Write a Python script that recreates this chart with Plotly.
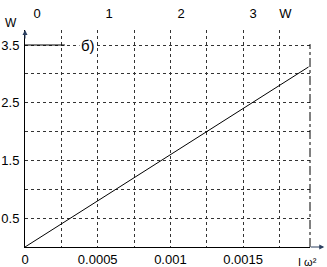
import plotly.graph_objects as go

# data
i_omega2 = [0, 0.0005, 0.001, 0.0015, 0.00195]
w_vals = [0, 0.80, 1.60, 2.40, 3.12]

x_tick_vals = [0, 0.00025, 0.0005, 0.00075, 0.001, 0.00125, 0.0015, 0.00175]
x_tick_text = ["0", "", "0.0005", "", "0.001", "", "0.0015", ""]
y_tick_vals = [0, 0.5, 1, 1.5, 2, 2.5, 3, 3.5]
y_tick_text = ["", "0.5", "", "1.5", "", "2.5", "", "3.5"]
top_tick_vals = [0, 1, 2, 3, 3.45]
top_tick_text = ["0", "1", "2", "3", "W"]

fig = go.Figure()
fig.add_trace(go.Scatter(x=i_omega2, y=w_vals, mode="lines",
                         line=dict(color="black", width=1), showlegend=False))
fig.add_trace(go.Scatter(x=[0], y=[0], xaxis="x2", mode="markers",
                         marker=dict(opacity=0), showlegend=False, hoverinfo="skip"))

fig.update_layout(
    width=327, height=267,
    margin=dict(l=25, r=17, t=30, b=20),
    plot_bgcolor="white", paper_bgcolor="white",
    font=dict(family="Arial, Liberation Sans", color="black", size=13),
    xaxis=dict(range=[0, 0.00196], tickvals=x_tick_vals, ticktext=x_tick_text,
               showgrid=True, gridcolor="#333", griddash="dot", gridwidth=1,
               showline=True, linecolor="black", linewidth=1, zeroline=False,
               ticks="", tickfont=dict(size=13), automargin=False),
    xaxis2=dict(overlaying="x", side="top", range=[-0.167, 3.79],
                tickvals=top_tick_vals, ticktext=top_tick_text,
                showgrid=False, showline=False, zeroline=False,
                ticks="outside", ticklen=6, tickcolor="rgba(0,0,0,0)",
                tickfont=dict(size=13), automargin=False),
    yaxis=dict(range=[0, 3.76], tickvals=y_tick_vals, ticktext=y_tick_text,
               showgrid=True, gridcolor="#333", griddash="dot", gridwidth=1,
               showline=True, linecolor="black", linewidth=1, zeroline=False,
               ticks="", ticklabelstandoff=2, tickfont=dict(size=13), automargin=False),
)

# right border
fig.add_shape(type="line", xref="paper", yref="paper", x0=1, x1=1, y0=0, y1=0.935,
              line=dict(color="black", width=1, dash="dashdot"))
# top solid segment at 3.5
fig.add_shape(type="line", xref="paper", yref="y", x0=0, x1=0.14, y0=3.5, y1=3.5,
              line=dict(color="black", width=1))
# x axis arrow
fig.add_annotation(xref="paper", yref="paper", x=1.05, y=0, ax=-15, ay=0,
                   showarrow=True, arrowhead=2, arrowsize=1, arrowwidth=1, text="")
# y axis arrow
fig.add_annotation(xref="paper", yref="paper", x=0, y=1.0, ax=0, ay=10,
                   showarrow=True, arrowhead=2, arrowsize=1, arrowwidth=1, text="")
fig.add_annotation(xref="paper", yref="paper", x=-0.02, y=0.99, text="W",
                   showarrow=False, xanchor="right", yanchor="bottom", font=dict(size=12))
fig.add_annotation(xref="paper", yref="paper", x=1.03, y=-0.03, text="I ω²",
                   showarrow=False, xanchor="right", yanchor="top", font=dict(size=11))
fig.add_annotation(xref="paper", yref="y", x=0.22, y=3.5, text="б)",
                   showarrow=False, bgcolor="white", font=dict(size=15),
                   xanchor="center", yanchor="middle")

fig.write_html("out.html", config={"displayModeBar": False},
               post_script="document.body.style.margin='0';document.body.style.overflow='hidden';")
